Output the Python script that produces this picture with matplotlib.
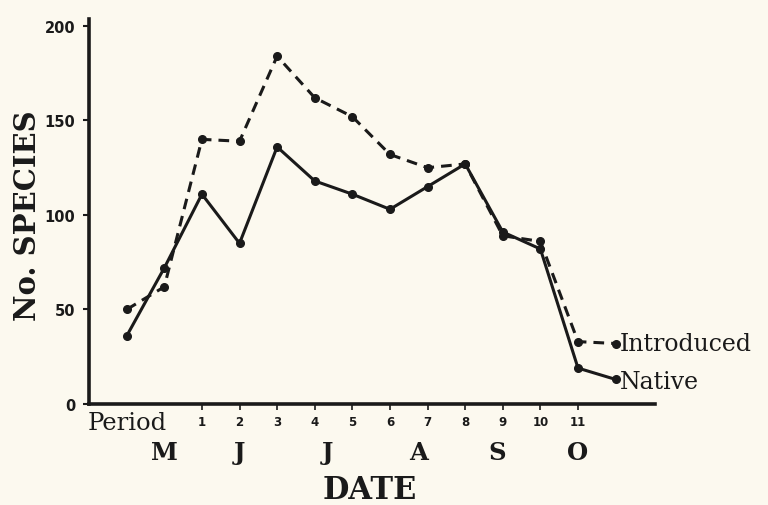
import matplotlib.pyplot as plt

# data (period index; -1 and 0 are the two May samples, 12 is the label end)
periods = [-1, 0, 1, 2, 3, 4, 5, 6, 7, 8, 9, 10, 11, 12]
native = [36, 72, 111, 85, 136, 118, 111, 103, 115, 127, 91, 82, 19, 13]
introduced = [50, 62, 140, 139, 184, 162, 152, 132, 125, 127, 89, 86, 33, 32]

tick_periods = list(range(1, 12))
months = ["M", "J", "J", "A", "S", "O"]
month_pos = [0, 2, 4.35, 6.75, 8.85, 11]

BG = "#fcf9ef"
INK = "#1a1a1a"

fig = plt.figure(figsize=(7.68, 5.06), dpi=100, facecolor=BG)
ax = fig.add_axes([0.116, 0.1996, 0.737, 0.761], facecolor=BG)

ax.plot(periods, introduced, color=INK, lw=2.2, ls=(0, (3.5, 2.3)),
        marker="o", ms=5.5, clip_on=False)
ax.plot(periods, native, color=INK, lw=2.2, ls="-",
        marker="o", ms=5.5, clip_on=False)

ax.set_xlim(-2, 13.05)
ax.set_ylim(0, 203.7)

for s in ["top", "right"]:
    ax.spines[s].set_visible(False)
for s in ["left", "bottom"]:
    ax.spines[s].set_linewidth(2.6)
    ax.spines[s].set_color(INK)

ax.set_yticks([0, 50, 100, 150, 200])
ax.set_yticklabels(["0", "50", "100", "150", "200"],
                   fontdict=dict(family="DejaVu Sans", weight="bold", size=10.5))
ax.tick_params(axis="y", length=4, width=1.5, pad=6, colors=INK)

ax.set_xticks(tick_periods)
ax.set_xticklabels([str(p) for p in tick_periods],
                   fontdict=dict(family="DejaVu Sans", weight="bold", size=8.5))
ax.tick_params(axis="x", length=4, width=1.2, pad=4, colors=INK)

# "Period" label at the start of the x axis
ax.text(-2.05, -3.5, "Period", ha="left", va="top", family="DejaVu Serif",
        fontsize=17.5, color=INK, clip_on=False)

# month letters
for m, x in zip(months, month_pos):
    ax.text(x, -19, m, ha="center", va="top", family="DejaVu Serif",
            weight="bold", fontsize=17.5, color=INK, clip_on=False)

# line labels at the right end
ax.text(12.12, introduced[-1], "Introduced", ha="left", va="center",
        family="DejaVu Serif", fontsize=17, color=INK, clip_on=False)
ax.text(12.12, native[-1] - 1, "Native", ha="left", va="center",
        family="DejaVu Serif", fontsize=17, color=INK, clip_on=False)

fig.text(0.482, 0.03, "DATE", ha="center", va="center", family="DejaVu Serif",
         weight="bold", fontsize=22, color=INK)
fig.text(0.036, 0.574, "No. SPECIES", ha="center", va="center", rotation=90,
         family="DejaVu Serif", weight="bold", fontsize=21, color=INK)

fig.savefig("out.png", dpi=100, facecolor=BG)
